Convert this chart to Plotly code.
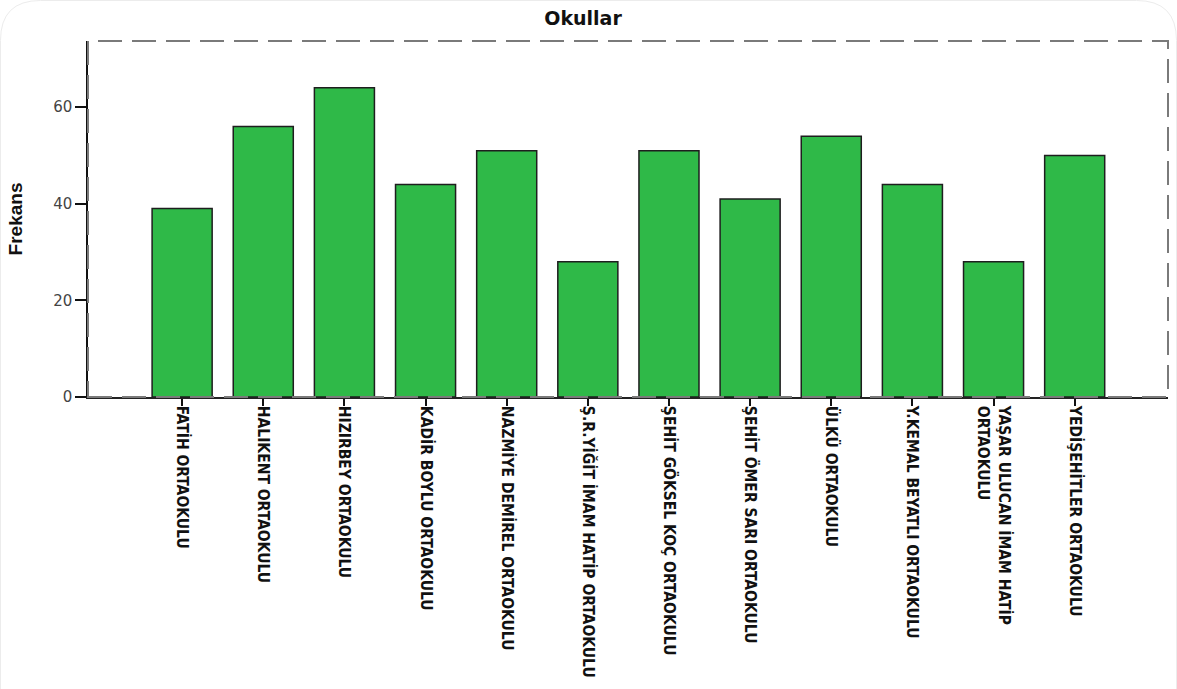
import plotly.graph_objects as go

# ---- data ----
categories = [
    "FATİH ORTAOKULU",
    "HALIKENT ORTAOKULU",
    "HIZIRBEY ORTAOKULU",
    "KADİR BOYLU ORTAOKULU",
    "NAZMİYE DEMİREL ORTAOKULU",
    "Ş.R.YİĞİT İMAM HATİP ORTAOKULU",
    "ŞEHİT GÖKSEL KOÇ ORTAOKULU",
    "ŞEHİT ÖMER SARI ORTAOKULU",
    "ÜLKÜ ORTAOKULU",
    "Y.KEMAL BEYATLI ORTAOKULU",
    "YAŞAR ULUCAN İMAM HATİP<br>ORTAOKULU",
    "YEDİŞEHİTLER ORTAOKULU",
]
frequencies = [39, 56, 64, 44, 51, 28, 51, 41, 54, 44, 28, 50]
y_ticks = [0, 20, 40, 60]

# ---- layout geometry (pixels) ----
W, H = 1177, 689
L, R, T, B = 88, 1168, 41, 397

fig = go.Figure()
fig.add_trace(go.Bar(
    x=categories,
    y=frequencies,
    width=0.74,
    marker=dict(color="rgb(47,185,72)", line=dict(color="#1e1e1e", width=1.5)),
    hoverinfo="x+y",
))

def px_to_paper_x(px):
    return (px - L) / (R - L)

def px_to_paper_y(py):
    return (B - py) / (B - T)

# faint rounded page edge
r = 40
x0p, x1p = px_to_paper_x(0.5), px_to_paper_x(W - 0.5)
y_top = px_to_paper_y(0.5)
y_bot = px_to_paper_y(H + 5)
rx = r / (R - L)
ry = r / (B - T)
path = (f"M {x0p} {y_bot} L {x0p} {y_top - ry} Q {x0p} {y_top} {x0p + rx} {y_top} "
        f"L {x1p - rx} {y_top} Q {x1p} {y_top} {x1p} {y_top - ry} L {x1p} {y_bot}")

fig.update_layout(
    width=W, height=H,
    margin=dict(l=L, r=W - R, t=T, b=H - B, autoexpand=False),
    paper_bgcolor="white",
    plot_bgcolor="white",
    showlegend=False,
    title=dict(
        text="<b>Okullar</b>",
        x=583 / W,
        xanchor="center",
        y=1 - 18.5 / H,
        yanchor="middle",
        font=dict(family="DejaVu Sans, Verdana, sans-serif", size=19, color="#111"),
    ),
    shapes=[
        dict(type="path", xref="paper", yref="paper", path=path,
             line=dict(color="#ececec", width=1), layer="below"),
        dict(type="rect", xref="paper", yref="paper", x0=0, x1=1, y0=0, y1=1,
             line=dict(color="#7a7a7a", width=2, dash="24px,10px"), layer="above"),
    ],
)

fig.update_xaxes(
    type="category",
    range=[-1.16, len(categories) - 1 + 1.15],
    tickangle=90,
    ticks="outside",
    ticklen=7,
    tickwidth=1.5,
    tickcolor="#111",
    ticklabelstandoff=-3,
    showline=True,
    linecolor="#222",
    linewidth=1.5,
    showgrid=False,
    zeroline=False,
    tickfont=dict(family="Liberation Sans Narrow, DejaVu Sans Condensed, Arial Narrow, sans-serif",
                  size=15.5, color="#111", weight="bold"),
)
fig.update_yaxes(
    range=[0, 73.7],
    tickvals=y_ticks,
    ticks="outside",
    ticklen=11,
    tickwidth=1.5,
    tickcolor="#111",
    showline=True,
    linecolor="#111",
    linewidth=1.5,
    showgrid=False,
    zeroline=False,
    tickfont=dict(family="DejaVu Sans, Verdana, sans-serif", size=15, color="#444"),
    title=dict(text="<b>Frekans</b>", standoff=26,
               font=dict(family="Liberation Sans, Arial, sans-serif", size=19, color="#111")),
)

fig.write_html("out.html",
               config={"displayModeBar": False},
               post_script="document.body.style.margin='0';document.body.style.padding='0';")
